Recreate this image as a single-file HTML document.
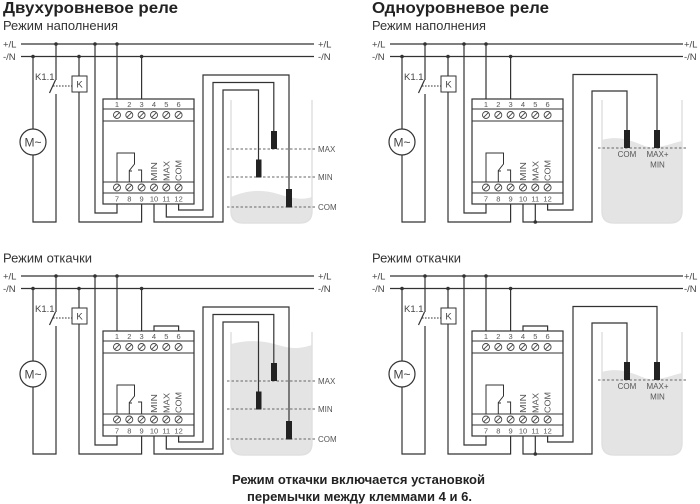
<!DOCTYPE html>
<html><head><meta charset="utf-8"><style>
html,body{margin:0;padding:0;background:#fff;width:700px;height:504px;overflow:hidden;}
svg{display:block;}
text{font-family:"Liberation Sans",Arial,sans-serif;}
</style></head><body>
<svg width="700" height="504" viewBox="0 0 700 504" xmlns="http://www.w3.org/2000/svg">
<rect width="700" height="504" fill="#fff"/>

<!-- Titles -->
<text x="3" y="13" font-size="16" font-weight="bold" fill="#222" textLength="175" lengthAdjust="spacingAndGlyphs">Двухуровневое реле</text>
<text x="372" y="13" font-size="16" font-weight="bold" fill="#222" textLength="177" lengthAdjust="spacingAndGlyphs">Одноуровневое реле</text>
<text x="3" y="30" font-size="12.5" fill="#333" textLength="115" lengthAdjust="spacingAndGlyphs">Режим наполнения</text>
<text x="372" y="30" font-size="12.5" fill="#333" textLength="114" lengthAdjust="spacingAndGlyphs">Режим наполнения</text>
<text x="3" y="262.5" font-size="12.5" fill="#333" textLength="89" lengthAdjust="spacingAndGlyphs">Режим откачки</text>
<text x="372" y="262.5" font-size="12.5" fill="#333" textLength="89" lengthAdjust="spacingAndGlyphs">Режим откачки</text>

<!-- Water / tanks (under wires) -->
<path d="M231 197C247 190 262 189 278 194S303 200 312 197V211Q312 223 300 223H243Q231 223 231 211Z" fill="#e4e4e4"/>
<path d="M231 344C246 340 262 340 278 345S302 348 312 345V443Q312 455 300 455H243Q231 455 231 443Z" fill="#e4e4e4"/>
<path d="M602 140C615 136 628 139 642 145S668 144 682 141V211Q682 223 670 223H614Q602 223 602 211Z" fill="#e4e4e4"/>
<path d="M602 372C615 368 628 371 642 377S668 376 682 373V443Q682 455 670 455H614Q602 455 602 443Z" fill="#e4e4e4"/>
<g fill="none" stroke="#e0e0e0" stroke-width="1.5">
<path d="M231 100V211Q231 223 243 223H300Q312 223 312 211V100"/>
<path d="M231 332V443Q231 455 243 455H300Q312 455 312 443V332"/>
<path d="M602 100V211Q602 223 614 223H670Q682 223 682 211V100"/>
<path d="M602 332V443Q602 455 614 455H670Q682 455 682 443V332"/>
</g>

<!-- Common part drawn 4 times -->
<g transform="translate(0,0)">
<g fill="none" stroke="#333" stroke-width="1.2">
<path d="M21 44H314M21 56.5H314"/>
<path d="M33 56.5V129M33 155V222H56V94M56 44V80M49.5 93L55.5 80"/>
<path d="M79 56.5V76M79 92V222H141.6V204M95 44V213H117V204M117 44V99M141.6 56.5V99"/>
<circle cx="33" cy="142" r="13"/>
<rect x="72" y="76" width="15" height="16" stroke-width="1"/>
<path d="M53 86H72" stroke-width="1" stroke-dasharray="1.6 1.4"/>
<rect x="103" y="99" width="91" height="105" fill="#fff"/>
<path d="M103 109H194M103 121H194M103 182H194M103 193H194" stroke-width="1"/>
<path d="M117 182V153H134.5V164L129 171M129.3 182V171H132M141.6 182V170H138" stroke-width="1"/>
</g>
<g fill="#333"><circle cx="56" cy="44" r="1.8"/><circle cx="95" cy="44" r="1.8"/><circle cx="117" cy="44" r="1.8"/><circle cx="33" cy="56.5" r="1.8"/><circle cx="79" cy="56.5" r="1.8"/><circle cx="141.6" cy="56.5" r="1.8"/></g>
<g fill="#fff" stroke="#444" stroke-width="0.9">
<circle cx="117" cy="115" r="3.5"/><circle cx="129.3" cy="115" r="3.5"/><circle cx="141.6" cy="115" r="3.5"/><circle cx="154" cy="115" r="3.5"/><circle cx="166.3" cy="115" r="3.5"/><circle cx="178.6" cy="115" r="3.5"/>
<circle cx="117" cy="187.5" r="3.5"/><circle cx="129.3" cy="187.5" r="3.5"/><circle cx="141.6" cy="187.5" r="3.5"/><circle cx="154" cy="187.5" r="3.5"/><circle cx="166.3" cy="187.5" r="3.5"/><circle cx="178.6" cy="187.5" r="3.5"/>
<path d="M114.7 117.3L119.3 112.7M127 117.3L131.6 112.7M139.3 117.3L143.9 112.7M151.7 117.3L156.3 112.7M164 117.3L168.6 112.7M176.3 117.3L180.9 112.7M114.7 189.8L119.3 185.2M127 189.8L131.6 185.2M139.3 189.8L143.9 185.2M151.7 189.8L156.3 185.2M164 189.8L168.6 185.2M176.3 189.8L180.9 185.2"/>
</g>
<g fill="#444" font-size="9.5">
<text x="3" y="47.5">+/L</text><text x="3" y="60">-/N</text>
<text x="318" y="47.5">+/L</text><text x="318" y="60">-/N</text>
<text x="35" y="80">K1.1</text>
<text x="79.5" y="87.5" text-anchor="middle">K</text>
<text x="33" y="146.5" text-anchor="middle" font-size="12">M~</text>
</g>
<g fill="#555" font-size="7.5" text-anchor="middle">
<text y="107"><tspan x="117">1</tspan><tspan x="129.3">2</tspan><tspan x="141.6">3</tspan><tspan x="154">4</tspan><tspan x="166.3">5</tspan><tspan x="178.6">6</tspan></text>
<text y="201.5"><tspan x="117">7</tspan><tspan x="129.3">8</tspan><tspan x="141.6">9</tspan><tspan x="154">10</tspan><tspan x="166.3">11</tspan><tspan x="178.6">12</tspan></text>
</g>
<g fill="#555" font-size="8.5">
<text transform="translate(157,181) rotate(-90)" textLength="19" lengthAdjust="spacingAndGlyphs">MIN</text>
<text transform="translate(169.3,181) rotate(-90)" textLength="20" lengthAdjust="spacingAndGlyphs">MAX</text>
<text transform="translate(181.6,181) rotate(-90)" textLength="21" lengthAdjust="spacingAndGlyphs">COM</text>
</g>
</g>

<g transform="translate(369,0)">
<g fill="none" stroke="#333" stroke-width="1.2">
<path d="M21 44H314M21 56.5H314"/>
<path d="M33 56.5V129M33 155V222H56V94M56 44V80M49.5 93L55.5 80"/>
<path d="M79 56.5V76M79 92V222H141.6V204M95 44V213H117V204M117 44V99M141.6 56.5V99"/>
<circle cx="33" cy="142" r="13"/>
<rect x="72" y="76" width="15" height="16" stroke-width="1"/>
<path d="M53 86H72" stroke-width="1" stroke-dasharray="1.6 1.4"/>
<rect x="103" y="99" width="91" height="105" fill="#fff"/>
<path d="M103 109H194M103 121H194M103 182H194M103 193H194" stroke-width="1"/>
<path d="M117 182V153H134.5V164L129 171M129.3 182V171H132M141.6 182V170H138" stroke-width="1"/>
</g>
<g fill="#333"><circle cx="56" cy="44" r="1.8"/><circle cx="95" cy="44" r="1.8"/><circle cx="117" cy="44" r="1.8"/><circle cx="33" cy="56.5" r="1.8"/><circle cx="79" cy="56.5" r="1.8"/><circle cx="141.6" cy="56.5" r="1.8"/></g>
<g fill="#fff" stroke="#444" stroke-width="0.9">
<circle cx="117" cy="115" r="3.5"/><circle cx="129.3" cy="115" r="3.5"/><circle cx="141.6" cy="115" r="3.5"/><circle cx="154" cy="115" r="3.5"/><circle cx="166.3" cy="115" r="3.5"/><circle cx="178.6" cy="115" r="3.5"/>
<circle cx="117" cy="187.5" r="3.5"/><circle cx="129.3" cy="187.5" r="3.5"/><circle cx="141.6" cy="187.5" r="3.5"/><circle cx="154" cy="187.5" r="3.5"/><circle cx="166.3" cy="187.5" r="3.5"/><circle cx="178.6" cy="187.5" r="3.5"/>
<path d="M114.7 117.3L119.3 112.7M127 117.3L131.6 112.7M139.3 117.3L143.9 112.7M151.7 117.3L156.3 112.7M164 117.3L168.6 112.7M176.3 117.3L180.9 112.7M114.7 189.8L119.3 185.2M127 189.8L131.6 185.2M139.3 189.8L143.9 185.2M151.7 189.8L156.3 185.2M164 189.8L168.6 185.2M176.3 189.8L180.9 185.2"/>
</g>
<g fill="#444" font-size="9.5">
<text x="3" y="47.5">+/L</text><text x="3" y="60">-/N</text>
<text x="315" y="47.5">+/L</text><text x="315" y="60">-/N</text>
<text x="35" y="80">K1.1</text>
<text x="79.5" y="87.5" text-anchor="middle">K</text>
<text x="33" y="146.5" text-anchor="middle" font-size="12">M~</text>
</g>
<g fill="#555" font-size="7.5" text-anchor="middle">
<text y="107"><tspan x="117">1</tspan><tspan x="129.3">2</tspan><tspan x="141.6">3</tspan><tspan x="154">4</tspan><tspan x="166.3">5</tspan><tspan x="178.6">6</tspan></text>
<text y="201.5"><tspan x="117">7</tspan><tspan x="129.3">8</tspan><tspan x="141.6">9</tspan><tspan x="154">10</tspan><tspan x="166.3">11</tspan><tspan x="178.6">12</tspan></text>
</g>
<g fill="#555" font-size="8.5">
<text transform="translate(157,181) rotate(-90)" textLength="19" lengthAdjust="spacingAndGlyphs">MIN</text>
<text transform="translate(169.3,181) rotate(-90)" textLength="20" lengthAdjust="spacingAndGlyphs">MAX</text>
<text transform="translate(181.6,181) rotate(-90)" textLength="21" lengthAdjust="spacingAndGlyphs">COM</text>
</g>
</g>

<g transform="translate(0,232)">
<g fill="none" stroke="#333" stroke-width="1.2">
<path d="M21 44H314M21 56.5H314"/>
<path d="M33 56.5V129M33 155V222H56V94M56 44V80M49.5 93L55.5 80"/>
<path d="M79 56.5V76M79 92V222H141.6V204M95 44V213H117V204M117 44V99M141.6 56.5V99"/>
<circle cx="33" cy="142" r="13"/>
<rect x="72" y="76" width="15" height="16" stroke-width="1"/>
<path d="M53 86H72" stroke-width="1" stroke-dasharray="1.6 1.4"/>
<path d="M154 99V94H178.6V99"/>
<rect x="103" y="99" width="91" height="105" fill="#fff"/>
<path d="M103 109H194M103 121H194M103 182H194M103 193H194" stroke-width="1"/>
<path d="M117 182V153H134.5V164L129 171M129.3 182V171H132M141.6 182V170H138" stroke-width="1"/>
</g>
<g fill="#333"><circle cx="56" cy="44" r="1.8"/><circle cx="95" cy="44" r="1.8"/><circle cx="117" cy="44" r="1.8"/><circle cx="33" cy="56.5" r="1.8"/><circle cx="79" cy="56.5" r="1.8"/><circle cx="141.6" cy="56.5" r="1.8"/></g>
<g fill="#fff" stroke="#444" stroke-width="0.9">
<circle cx="117" cy="115" r="3.5"/><circle cx="129.3" cy="115" r="3.5"/><circle cx="141.6" cy="115" r="3.5"/><circle cx="154" cy="115" r="3.5"/><circle cx="166.3" cy="115" r="3.5"/><circle cx="178.6" cy="115" r="3.5"/>
<circle cx="117" cy="187.5" r="3.5"/><circle cx="129.3" cy="187.5" r="3.5"/><circle cx="141.6" cy="187.5" r="3.5"/><circle cx="154" cy="187.5" r="3.5"/><circle cx="166.3" cy="187.5" r="3.5"/><circle cx="178.6" cy="187.5" r="3.5"/>
<path d="M114.7 117.3L119.3 112.7M127 117.3L131.6 112.7M139.3 117.3L143.9 112.7M151.7 117.3L156.3 112.7M164 117.3L168.6 112.7M176.3 117.3L180.9 112.7M114.7 189.8L119.3 185.2M127 189.8L131.6 185.2M139.3 189.8L143.9 185.2M151.7 189.8L156.3 185.2M164 189.8L168.6 185.2M176.3 189.8L180.9 185.2"/>
</g>
<g fill="#444" font-size="9.5">
<text x="3" y="47.5">+/L</text><text x="3" y="60">-/N</text>
<text x="318" y="47.5">+/L</text><text x="318" y="60">-/N</text>
<text x="35" y="80">K1.1</text>
<text x="79.5" y="87.5" text-anchor="middle">K</text>
<text x="33" y="146.5" text-anchor="middle" font-size="12">M~</text>
</g>
<g fill="#555" font-size="7.5" text-anchor="middle">
<text y="107"><tspan x="117">1</tspan><tspan x="129.3">2</tspan><tspan x="141.6">3</tspan><tspan x="154">4</tspan><tspan x="166.3">5</tspan><tspan x="178.6">6</tspan></text>
<text y="201.5"><tspan x="117">7</tspan><tspan x="129.3">8</tspan><tspan x="141.6">9</tspan><tspan x="154">10</tspan><tspan x="166.3">11</tspan><tspan x="178.6">12</tspan></text>
</g>
<g fill="#555" font-size="8.5">
<text transform="translate(157,181) rotate(-90)" textLength="19" lengthAdjust="spacingAndGlyphs">MIN</text>
<text transform="translate(169.3,181) rotate(-90)" textLength="20" lengthAdjust="spacingAndGlyphs">MAX</text>
<text transform="translate(181.6,181) rotate(-90)" textLength="21" lengthAdjust="spacingAndGlyphs">COM</text>
</g>
</g>

<g transform="translate(369,232)">
<g fill="none" stroke="#333" stroke-width="1.2">
<path d="M21 44H314M21 56.5H314"/>
<path d="M33 56.5V129M33 155V222H56V94M56 44V80M49.5 93L55.5 80"/>
<path d="M79 56.5V76M79 92V222H141.6V204M95 44V213H117V204M117 44V99M141.6 56.5V99"/>
<circle cx="33" cy="142" r="13"/>
<rect x="72" y="76" width="15" height="16" stroke-width="1"/>
<path d="M53 86H72" stroke-width="1" stroke-dasharray="1.6 1.4"/>
<path d="M154 99V94H178.6V99"/>
<rect x="103" y="99" width="91" height="105" fill="#fff"/>
<path d="M103 109H194M103 121H194M103 182H194M103 193H194" stroke-width="1"/>
<path d="M117 182V153H134.5V164L129 171M129.3 182V171H132M141.6 182V170H138" stroke-width="1"/>
</g>
<g fill="#333"><circle cx="56" cy="44" r="1.8"/><circle cx="95" cy="44" r="1.8"/><circle cx="117" cy="44" r="1.8"/><circle cx="33" cy="56.5" r="1.8"/><circle cx="79" cy="56.5" r="1.8"/><circle cx="141.6" cy="56.5" r="1.8"/></g>
<g fill="#fff" stroke="#444" stroke-width="0.9">
<circle cx="117" cy="115" r="3.5"/><circle cx="129.3" cy="115" r="3.5"/><circle cx="141.6" cy="115" r="3.5"/><circle cx="154" cy="115" r="3.5"/><circle cx="166.3" cy="115" r="3.5"/><circle cx="178.6" cy="115" r="3.5"/>
<circle cx="117" cy="187.5" r="3.5"/><circle cx="129.3" cy="187.5" r="3.5"/><circle cx="141.6" cy="187.5" r="3.5"/><circle cx="154" cy="187.5" r="3.5"/><circle cx="166.3" cy="187.5" r="3.5"/><circle cx="178.6" cy="187.5" r="3.5"/>
<path d="M114.7 117.3L119.3 112.7M127 117.3L131.6 112.7M139.3 117.3L143.9 112.7M151.7 117.3L156.3 112.7M164 117.3L168.6 112.7M176.3 117.3L180.9 112.7M114.7 189.8L119.3 185.2M127 189.8L131.6 185.2M139.3 189.8L143.9 185.2M151.7 189.8L156.3 185.2M164 189.8L168.6 185.2M176.3 189.8L180.9 185.2"/>
</g>
<g fill="#444" font-size="9.5">
<text x="3" y="47.5">+/L</text><text x="3" y="60">-/N</text>
<text x="315" y="47.5">+/L</text><text x="315" y="60">-/N</text>
<text x="35" y="80">K1.1</text>
<text x="79.5" y="87.5" text-anchor="middle">K</text>
<text x="33" y="146.5" text-anchor="middle" font-size="12">M~</text>
</g>
<g fill="#555" font-size="7.5" text-anchor="middle">
<text y="107"><tspan x="117">1</tspan><tspan x="129.3">2</tspan><tspan x="141.6">3</tspan><tspan x="154">4</tspan><tspan x="166.3">5</tspan><tspan x="178.6">6</tspan></text>
<text y="201.5"><tspan x="117">7</tspan><tspan x="129.3">8</tspan><tspan x="141.6">9</tspan><tspan x="154">10</tspan><tspan x="166.3">11</tspan><tspan x="178.6">12</tspan></text>
</g>
<g fill="#555" font-size="8.5">
<text transform="translate(157,181) rotate(-90)" textLength="19" lengthAdjust="spacingAndGlyphs">MIN</text>
<text transform="translate(169.3,181) rotate(-90)" textLength="20" lengthAdjust="spacingAndGlyphs">MAX</text>
<text transform="translate(181.6,181) rotate(-90)" textLength="21" lengthAdjust="spacingAndGlyphs">COM</text>
</g>
</g>

<!-- Two-level specifics (left column) -->
<g transform="translate(0,0)">
<path d="M227 149H316M227 177H316M227 207H316" fill="none" stroke="#666" stroke-width="0.9" stroke-dasharray="2.5 2"/>
<path d="M154 204V222H223V90H258.5V160M166.3 204V217H213V82.5H273.8V132M178.6 204V210H203V75H289V190" fill="none" stroke="#333" stroke-width="1.2"/>
<g fill="#222"><rect x="271" y="131" width="6" height="18"/><rect x="256" y="159.5" width="5.5" height="18"/><rect x="286" y="189" width="6" height="18.5"/></g>
<g fill="#555" font-size="8"><text x="318" y="152">MAX</text><text x="318" y="180">MIN</text><text x="318" y="210">COM</text></g>
</g>
<g transform="translate(0,232)">
<path d="M227 149H316M227 177H316M227 207H316" fill="none" stroke="#666" stroke-width="0.9" stroke-dasharray="2.5 2"/>
<path d="M154 204V222H223V90H258.5V160M166.3 204V217H213V82.5H273.8V132M178.6 204V210H203V75H289V190" fill="none" stroke="#333" stroke-width="1.2"/>
<g fill="#222"><rect x="271" y="131" width="6" height="18"/><rect x="256" y="159.5" width="5.5" height="18"/><rect x="286" y="189" width="6" height="18.5"/></g>
<g fill="#555" font-size="8"><text x="318" y="152">MAX</text><text x="318" y="180">MIN</text><text x="318" y="210">COM</text></g>
</g>

<!-- One-level specifics (right column) -->
<g transform="translate(0,0)">
<path d="M598 148H688" fill="none" stroke="#666" stroke-width="0.9" stroke-dasharray="2.5 2"/>
<path d="M547.6 204V210H573V74.5H657V130M523 204V222H592V91H627V130M535.3 204V222" fill="none" stroke="#333" stroke-width="1.2"/>
<circle cx="535.3" cy="222" r="1.8" fill="#333"/>
<g fill="#222"><rect x="624" y="130" width="6" height="18"/><rect x="654" y="130" width="6" height="18"/></g>
<g fill="#555" font-size="8" text-anchor="middle"><text x="627" y="157">COM</text><text x="657.5" y="157">MAX+</text><text x="657.5" y="167.5">MIN</text></g>
</g>
<g transform="translate(0,232)">
<path d="M598 148H688" fill="none" stroke="#666" stroke-width="0.9" stroke-dasharray="2.5 2"/>
<path d="M547.6 204V210H573V74.5H657V130M523 204V222H592V91H627V130M535.3 204V222" fill="none" stroke="#333" stroke-width="1.2"/>
<circle cx="535.3" cy="222" r="1.8" fill="#333"/>
<g fill="#222"><rect x="624" y="130" width="6" height="18"/><rect x="654" y="130" width="6" height="18"/></g>
<g fill="#555" font-size="8" text-anchor="middle"><text x="627" y="157">COM</text><text x="657.5" y="157">MAX+</text><text x="657.5" y="167.5">MIN</text></g>
</g>

<!-- Footer -->
<text x="358.5" y="484" font-size="13" font-weight="bold" fill="#222" text-anchor="middle" textLength="253" lengthAdjust="spacingAndGlyphs">Режим откачки включается установкой</text>
<text x="359.5" y="501" font-size="13" font-weight="bold" fill="#222" text-anchor="middle" textLength="225" lengthAdjust="spacingAndGlyphs">перемычки между клеммами 4 и 6.</text>
</svg>
</body></html>
